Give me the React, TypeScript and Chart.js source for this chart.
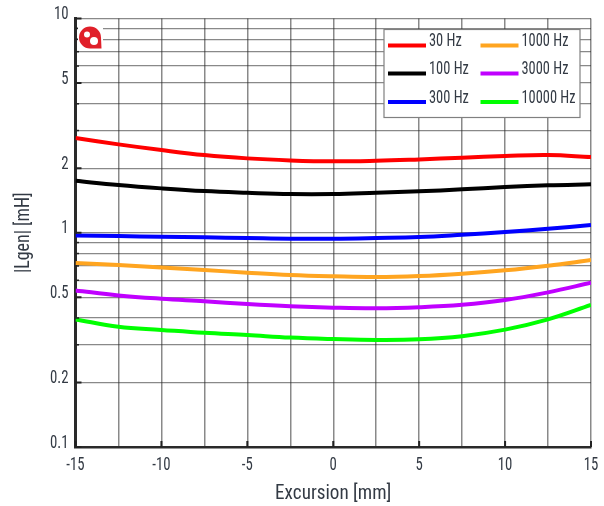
import React, { useEffect, useRef } from "react";
import { Chart, registerables } from "chart.js";

Chart.register(...registerables);

const excursion = [-15, -12.5, -10, -7.5, -5, -2.5, 0, 2.5, 5, 7.5, 10, 12.5, 15];
const hz30 = [2.766, 2.585, 2.432, 2.305, 2.224, 2.176, 2.154, 2.168, 2.2, 2.239, 2.28, 2.305, 2.256];
const hz100 = [1.748, 1.67, 1.611, 1.565, 1.537, 1.516, 1.516, 1.537, 1.56, 1.594, 1.634, 1.664, 1.682];
const hz300 = [0.972, 0.965, 0.958, 0.952, 0.945, 0.938, 0.938, 0.945, 0.955, 0.979, 1.008, 1.044, 1.086];
const hz1000 = [0.722, 0.707, 0.689, 0.67, 0.651, 0.635, 0.626, 0.621, 0.628, 0.644, 0.668, 0.702, 0.746];
const hz3000 = [0.538, 0.51, 0.492, 0.479, 0.465, 0.454, 0.447, 0.444, 0.449, 0.461, 0.485, 0.527, 0.584];
const hz10000 = [0.394, 0.364, 0.352, 0.341, 0.333, 0.324, 0.319, 0.316, 0.318, 0.329, 0.353, 0.394, 0.46];

const seriesLabels = ["30 Hz", "100 Hz", "300 Hz", "1000 Hz", "3000 Hz", "10000 Hz"];
const seriesColors = ["#ff0000", "#000000", "#0000ff", "#ffa520", "#c000ff", "#00ff00"];
const seriesValues = [hz30, hz100, hz300, hz1000, hz3000, hz10000];

const yGridValues = [0.1, 0.2, 0.3, 0.4, 0.5, 0.6, 0.7, 0.8, 0.9, 1, 2, 3, 4, 5, 6, 7, 8, 9, 10];
const yLabelled = [0.1, 0.2, 0.5, 1, 2, 5, 10];
const xLabelled = [-15, -10, -5, 0, 5, 10, 15];

const FONT = '"Roboto Condensed", Roboto, sans-serif';
const INK = "#333a44";
const GRID = "rgba(40,40,40,0.55)";

// The reference face is narrower than any installed one: squeeze text along its own direction.
const narrowText = {
  id: "narrowText",
  beforeDraw(chart: any) {
    const ctx = chart.ctx;
    if (ctx.__narrow) return;
    ctx.__narrow = true;
    const original = ctx.fillText.bind(ctx);
    ctx.fillText = (text: string, x: number, y: number) => {
      const factor = text.startsWith("|") ? 0.85 : text.startsWith("Exc") ? 0.91 : 0.8;
      ctx.save();
      ctx.translate(x, y);
      ctx.scale(factor, 1);
      original(text, 0, 0);
      ctx.restore();
    };
  },
};

const insideTicks = {
  id: "insideTicks",
  afterDatasetsDraw(chart: any) {
    const { ctx, chartArea, scales } = chart;
    ctx.save();
    ctx.strokeStyle = "#222";
    yGridValues.forEach((v) => {
      const major = yLabelled.includes(v);
      const y = scales.y.getPixelForValue(v);
      ctx.lineWidth = major ? 2 : 1.5;
      ctx.beginPath();
      ctx.moveTo(chartArea.left, y);
      ctx.lineTo(chartArea.left + (major ? 6 : 3.5), y);
      ctx.stroke();
    });
    xLabelled.forEach((v) => {
      const x = scales.x.getPixelForValue(v);
      ctx.lineWidth = 2;
      ctx.beginPath();
      ctx.moveTo(x, chartArea.bottom);
      ctx.lineTo(x, chartArea.bottom - 6);
      ctx.stroke();
    });
    ctx.restore();
  },
};

const logoAndLegend = {
  id: "logoAndLegend",
  afterDraw(chart: any) {
    const { ctx } = chart;
    ctx.save();
    // logo
    ctx.fillStyle = "#ffffff";
    ctx.fillRect(78, 20, 25, 30);
    ctx.fillStyle = "#e0202a";
    ctx.beginPath();
    ctx.moveTo(101.5, 48.5);
    ctx.lineTo(90, 48.5);
    ctx.arc(90, 37.5, 11, Math.PI / 2, Math.PI * 2, false);
    ctx.lineTo(101.5, 48.5);
    ctx.closePath();
    ctx.fill();
    ctx.fillStyle = "#ffffff";
    ctx.beginPath();
    ctx.arc(87, 34.5, 3, 0, Math.PI * 2);
    ctx.fill();
    ctx.beginPath();
    ctx.arc(94, 41, 4, 0, Math.PI * 2);
    ctx.fill();

    // legend box
    ctx.fillStyle = "#ffffff";
    ctx.fillRect(384, 29.5, 196, 88);
    ctx.strokeStyle = "#808080";
    ctx.lineWidth = 1.2;
    ctx.strokeRect(384, 29.5, 196, 88);
    const rows = [45.5, 73.5, 102];
    chart.data.datasets.forEach((ds: any, i: number) => {
      const col = i < 3 ? 0 : 1;
      const row = i % 3;
      const lx = col === 0 ? 388 : 480.5;
      ctx.strokeStyle = ds.borderColor;
      ctx.lineWidth = 4;
      ctx.beginPath();
      ctx.moveTo(lx, rows[row]);
      ctx.lineTo(lx + 38, rows[row]);
      ctx.stroke();
      ctx.fillStyle = INK;
      ctx.font = `18px ${FONT}`;
      ctx.textAlign = "left";
      ctx.textBaseline = "alphabetic";
      ctx.fillText(ds.label, lx + 41, rows[row] + 0.5);
    });
    ctx.restore();
  },
};

export default function App() {
  const ref = useRef<HTMLCanvasElement>(null);
  useEffect(() => {
    const chart = new Chart(ref.current as HTMLCanvasElement, {
      type: "line",
      data: {
        labels: excursion,
        datasets: seriesLabels.map((label, i) => ({
          label,
          data: excursion.map((x, j) => ({ x, y: seriesValues[i][j] })),
          borderColor: seriesColors[i],
          backgroundColor: seriesColors[i],
          borderWidth: 4,
          pointRadius: 0,
          tension: 0.4,
        })),
      },
      options: {
        animation: false,
        responsive: false,
        layout: { padding: { top: 18.5, right: 13, left: 0, bottom: 0 } },
        plugins: { legend: { display: false }, title: { display: false }, tooltip: { enabled: false } },
        scales: {
          x: {
            type: "linear",
            min: -15,
            max: 15,
            afterFit(s: any) {
              s.height = 59;
              s.paddingLeft = 0;
              s.paddingRight = 0;
            },
            ticks: {
              stepSize: 2.5,
              autoSkip: false,
              maxRotation: 0,
              padding: 7,
              color: INK,
              font: { family: FONT, size: 18.5 },
              callback: (v: any) => (xLabelled.includes(Number(v)) ? String(v) : ""),
            },
            grid: { color: GRID, lineWidth: 1.5, drawTicks: false },
            border: { display: true, color: "#2a2a2a", width: 2.5 },
            title: {
              display: true,
              text: "Excursion [mm]",
              color: INK,
              font: { family: FONT, size: 21 },
              padding: { top: 0, bottom: 0 },
            },
          },
          y: {
            type: "logarithmic",
            min: 0.1,
            max: 10,
            afterFit(s: any) {
              s.width = 75.5;
              s.paddingTop = 0;
              s.paddingBottom = 0;
            },
            afterBuildTicks(s: any) {
              s.ticks = yGridValues.map((value) => ({ value }));
            },
            ticks: {
              autoSkip: false,
              padding: 7,
              labelOffset: -4,
              color: INK,
              font: { family: FONT, size: 18.5 },
              callback: (v: any) => (yLabelled.includes(Number(v)) ? String(v) : ""),
            },
            grid: { color: GRID, lineWidth: 1.2, drawTicks: false },
            border: { display: true, color: "#2a2a2a", width: 3 },
            title: {
              display: true,
              text: "|Lgen| [mH]",
              color: INK,
              font: { family: FONT, size: 21 },
              padding: { top: 11, bottom: 0 },
            },
          },
        },
      },
      plugins: [narrowText, insideTicks, logoAndLegend],
    } as any);
    return () => chart.destroy();
  }, []);
  return (
    <canvas
      ref={ref}
      width={604}
      height={506}
      style={{ position: "absolute", left: 0, top: 0, width: 604, height: 506, display: "block" }}
    />
  );
}
